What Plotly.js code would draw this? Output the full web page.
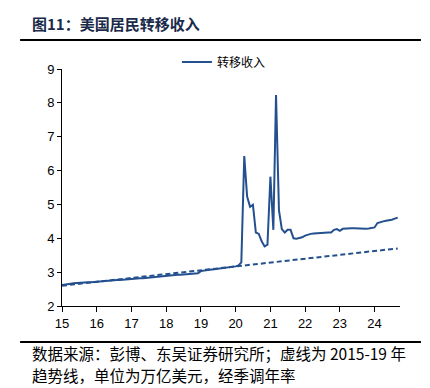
<!DOCTYPE html>
<html>
<head>
<meta charset="utf-8">
<script src="https://cdn.plot.ly/plotly-3.0.1.min.js"></script>
<style>html,body{margin:0;padding:0;background:#fff;}#chart{width:430px;height:388px;}</style>
</head>
<body>
<div id="chart"></div>
<script>
// Monthly data, Jan 2015 – Sep 2024 (trillion USD, SAAR)
const startYear = 2015;
const transfer2015 = [2.62, 2.64, 2.65, 2.66, 2.67, 2.68, 2.68, 2.69, 2.69, 2.70, 2.70, 2.71];
const transfer2016 = [2.72, 2.72, 2.73, 2.74, 2.75, 2.75, 2.76, 2.77, 2.77, 2.78, 2.79, 2.79];
const transfer2017 = [2.80, 2.81, 2.81, 2.82, 2.82, 2.83, 2.84, 2.84, 2.85, 2.85, 2.86, 2.87];
const transfer2018 = [2.89, 2.89, 2.90, 2.91, 2.92, 2.92, 2.93, 2.94, 2.95, 2.96, 2.96, 2.97];
const transfer2019 = [3.03, 3.05, 3.06, 3.07, 3.08, 3.09, 3.10, 3.11, 3.12, 3.13, 3.14, 3.15];
const transfer2020 = [3.17, 3.20, 3.29, 6.43, 5.23, 4.93, 4.99, 4.17, 4.13, 3.91, 3.76, 3.81];
const transfer2021 = [5.82, 4.25, 8.23, 4.82, 4.27, 4.17, 4.25, 4.25, 4.00, 3.99, 4.00, 4.03];
const transfer2022 = [4.08, 4.11, 4.13, 4.14, 4.15, 4.15, 4.16, 4.16, 4.17, 4.17, 4.25, 4.27];
const transfer2023 = [4.22, 4.28, 4.29, 4.30, 4.30, 4.30, 4.29, 4.28, 4.28, 4.28, 4.29, 4.30];
const transfer2024 = [4.32, 4.45, 4.48, 4.50, 4.52, 4.53, 4.55, 4.58, 4.61];

const trendDates = ["2015-01-01", "2024-09-01"];
const trendValues = [2.60, 3.70];

const seriesName = "转移收入";
const yTicks = [2, 3, 4, 5, 6, 7, 8, 9];
const titleText = "图11：美国居民转移收入";
const footer1 = "数据来源：彭博、东吴证券研究所；虚线为 2015-19 年";
const footer2 = "趋势线，单位为万亿美元，经季调年率";

const values = [].concat(transfer2015, transfer2016, transfer2017, transfer2018, transfer2019,
  transfer2020, transfer2021, transfer2022, transfer2023, transfer2024);
const dates = values.map((v, i) => {
  const y = startYear + Math.floor(i / 12);
  const m = (i % 12) + 1;
  return y + "-" + String(m).padStart(2, "0") + "-01";
});

const color = "#24508f";
const cjk = "'Noto Sans CJK SC', sans-serif";

const data = [
  {x: dates, y: values, type: "scatter", mode: "lines", name: seriesName,
   line: {color: color, width: 2}},
  {x: trendDates, y: trendValues, type: "scatter", mode: "lines", showlegend: false,
   line: {color: color, width: 2, dash: "5px,3px"}}
];

const layout = {
  width: 430, height: 388,
  margin: {l: 62, r: 30, t: 69, b: 82},
  paper_bgcolor: "#fff", plot_bgcolor: "#fff",
  showlegend: true,
  legend: {x: 0.34, y: 1.03, xanchor: "left", yanchor: "middle", orientation: "h",
           font: {family: cjk, size: 12, color: "#000"}, bgcolor: "rgba(0,0,0,0)"},
  xaxis: {type: "date", range: ["2015-01-01", "2024-09-25"], tickformat: "%y", dtick: "M12",
          tick0: "2015-01-01",
          showgrid: false, zeroline: false, showline: true, linecolor: "#000", linewidth: 1,
          ticks: "outside", ticklen: 5, tickcolor: "#000",
          tickfont: {family: "'Liberation Sans', Arial, sans-serif", size: 13, color: "#000"}},
  yaxis: {range: [2, 9], tickvals: yTicks, showgrid: false, zeroline: false,
          showline: true, linecolor: "#000", linewidth: 1,
          ticks: "outside", ticklen: 4, tickcolor: "#000",
          tickfont: {family: "'Liberation Sans', Arial, sans-serif", size: 13, color: "#000"}},
  shapes: [
    {type: "line", xref: "paper", yref: "paper", x0: -0.124, x1: 1.062, y0: 1.122, y1: 1.122,
     line: {color: "#000", width: 2}},
    {type: "line", xref: "paper", yref: "paper", x0: -0.124, x1: 1.062, y0: -0.152, y1: -0.152,
     line: {color: "#000", width: 2}}
  ],
  annotations: [
    {text: "<b>" + titleText + "</b>", xref: "paper", yref: "paper", x: -0.095, y: 1.19,
     xanchor: "left", yanchor: "middle", showarrow: false,
     font: {family: cjk, size: 15, color: "#1a2a4a"}},
    {text: footer1, xref: "paper", yref: "paper", x: -0.095, y: -0.2,
     xanchor: "left", yanchor: "middle", showarrow: false,
     font: {family: cjk, size: 15.5, color: "#000"}},
    {text: footer2, xref: "paper", yref: "paper", x: -0.095, y: -0.292,
     xanchor: "left", yanchor: "middle", showarrow: false,
     font: {family: cjk, size: 15.5, color: "#000"}}
  ]
};

Plotly.newPlot("chart", data, layout, {displayModeBar: false, staticPlot: true});
</script>
</body>
</html>
